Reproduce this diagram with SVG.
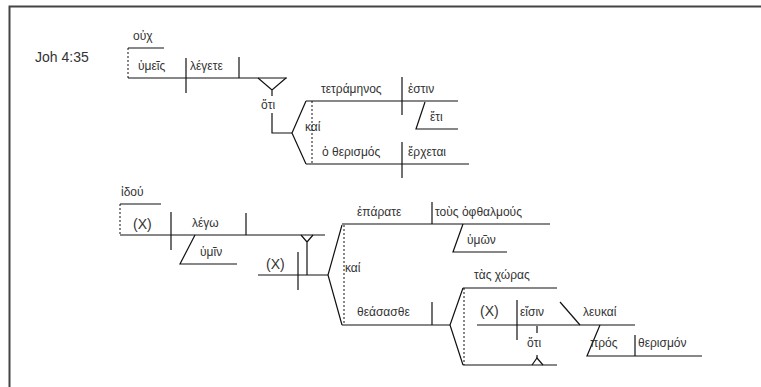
<svg xmlns="http://www.w3.org/2000/svg" width="761" height="387" viewBox="0 0 761 387">
<style>
.ln{stroke:#111;stroke-width:1.2;fill:none}
.dt{stroke:#111;stroke-width:1;fill:none;stroke-dasharray:2 2}
.gk{font-family:"Liberation Sans","DejaVu Sans",sans-serif;font-size:12px;fill:#333}
.lt{font-family:"Liberation Sans",Arial,sans-serif;font-size:14px;fill:#333}
</style>
<rect width="761" height="387" fill="#fff"/>
<path d="M9.5 387 V6.5 H761" stroke="#444" stroke-width="2" fill="none"/>
<text class="lt" x="35" y="62">Joh 4:35</text>
<g id="connectors">
<!-- top clause -->
<path class="ln" d="M128 48 H164"/>
<path class="dt" d="M128 48 V78"/>
<path class="ln" d="M128 78 H287"/>
<path class="ln" d="M186 58 V93"/>
<path class="ln" d="M239 57 V78"/>
<path class="ln" d="M258 78 L272 90 L286 78 M272 90 V96"/>
<path class="ln" d="M272 113 V133 H292"/>
<path class="ln" d="M306 101 L292 133 L306 164"/>
<path class="dt" d="M312 101 V164"/>
<path class="ln" d="M306 101 H458"/>
<path class="ln" d="M402 77 V115"/>
<path class="ln" d="M425 102 L416 129 H458"/>
<path class="ln" d="M306 164 H469"/>
<path class="ln" d="M402 142 V178"/>
<!-- second part -->
<path class="ln" d="M120 204 H161"/>
<path class="dt" d="M120 204 V235"/>
<path class="ln" d="M120 235 H325"/>
<path class="ln" d="M171 212 V250"/>
<path class="ln" d="M246 213 V235"/>
<path class="ln" d="M195 235 L180 264 H237"/>
<path class="ln" d="M301 235 L307 242 L313 235 M307 242 V275"/>
<path class="ln" d="M258 275 H328"/>
<path class="ln" d="M298 252 V290"/>
<path class="ln" d="M342 225 L328 275 L342 325"/>
<path class="dt" d="M344 225 V325"/>
<path class="ln" d="M342 224 H550"/>
<path class="ln" d="M432 202 V224"/>
<path class="ln" d="M463 224 L453 252 H507"/>
<path class="ln" d="M342 325 H450"/>
<path class="ln" d="M432 302 V325"/>
<path class="ln" d="M463 288 L450 325 L463 365"/>
<path class="dt" d="M464 288 V365"/>
<path class="ln" d="M463 288 H557"/>
<path class="ln" d="M463 365 H557"/>
<path class="ln" d="M532 365 L537 358 L543 365"/>
<path class="ln" d="M537 355 V358 M537 326 V333"/>
<path class="ln" d="M477 325 H635"/>
<path class="ln" d="M517 300 V340"/>
<path class="ln" d="M560 302 L580 325"/>
<path class="ln" d="M600 325 L587 356 H702"/>
<path class="ln" d="M635 335 V356"/>
</g>
<g id="n-ouch"><text class="gk" x="133" y="40">οὐχ</text></g>
<g id="n-humeis"><text class="gk" x="138" y="70">ὑμεῖς</text></g>
<g id="n-legete"><text class="gk" x="190" y="70">λέγετε</text></g>
<g id="n-hoti1"><text class="gk" x="261" y="109">ὅτι</text></g>
<g id="n-tetramenos"><text class="gk" x="321" y="93">τετράμηνος</text></g>
<g id="n-estin"><text class="gk" x="408" y="93">ἐστιν</text></g>
<g id="n-eti"><text class="gk" x="430" y="121">ἔτι</text></g>
<g id="n-kai1"><text class="gk" x="305" y="131">καί</text></g>
<g id="n-therismos"><text class="gk" x="322" y="156">ὁ θερισμός</text></g>
<g id="n-erchetai"><text class="gk" x="408" y="156">ἔρχεται</text></g>
<g id="n-idou"><text class="gk" x="121" y="196">ἰδού</text></g>
<g id="n-x1"><text class="lt" x="133" y="229">(X)</text></g>
<g id="n-lego"><text class="gk" x="192" y="227">λέγω</text></g>
<g id="n-humin"><text class="gk" x="200" y="256">ὑμῖν</text></g>
<g id="n-x2"><text class="lt" x="266" y="269">(X)</text></g>
<g id="n-kai2"><text class="gk" x="345" y="272">καί</text></g>
<g id="n-eparate"><text class="gk" x="357" y="216">ἐπάρατε</text></g>
<g id="n-ophthalmous"><text class="gk" x="435" y="216">τοὺς ὀφθαλμούς</text></g>
<g id="n-humon"><text class="gk" x="467" y="244">ὑμῶν</text></g>
<g id="n-theasasthe"><text class="gk" x="357" y="316">θεάσασθε</text></g>
<g id="n-choras"><text class="gk" x="474" y="279">τὰς χώρας</text></g>
<g id="n-x3"><text class="lt" x="480" y="316">(X)</text></g>
<g id="n-eisin"><text class="gk" x="520" y="316">εἴσιν</text></g>
<g id="n-leukai"><text class="gk" x="583" y="316">λευκαί</text></g>
<g id="n-hoti2"><text class="gk" x="527" y="347">ὅτι</text></g>
<g id="n-pros"><text class="gk" x="590" y="347">πρός</text></g>
<g id="n-therismon"><text class="gk" x="638" y="347">θερισμόν</text></g>
</svg>
